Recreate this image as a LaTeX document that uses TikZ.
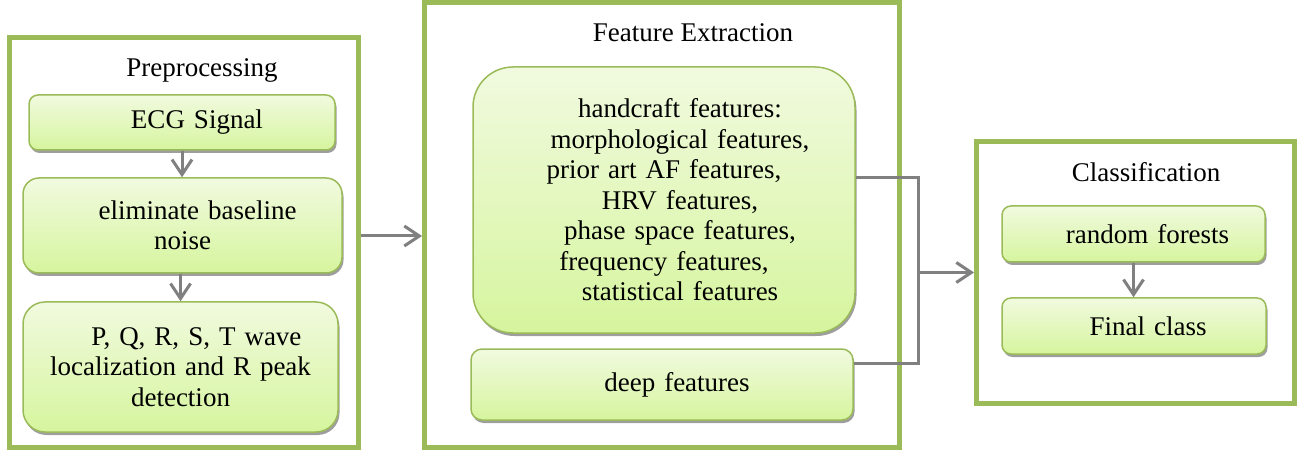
\documentclass[tikz,border=0pt]{standalone}
\usepackage{fontspec}
\setmainfont{Liberation Serif}
\usetikzlibrary{arrows.meta,shadows}
\definecolor{olivegreen}{HTML}{9BBB59}
\definecolor{boxtop}{HTML}{F1FADF}
\definecolor{boxbot}{HTML}{D6F59E}
\definecolor{conngray}{HTML}{808080}
\begin{document}
\begin{tikzpicture}[x=1pt,y=-1pt,
  every node/.style={font=\fontsize{27}{30.5}\selectfont},
  outerbox/.style={draw=olivegreen, line width=5pt, inner sep=0pt},
  innerbox/.style={draw=olivegreen, line width=1.5pt, top color=boxtop, bottom color=boxbot,
     drop shadow={shadow xshift=1.5pt, shadow yshift=-3pt, fill=black!38, opacity=1},
     align=center, inner sep=0pt},
  titletext/.style={anchor=base, inner sep=0pt},
  connline/.style={draw=conngray, line width=3pt},
  conn/.style={connline, -{Straight Barb[length=15pt,width=20pt]}}
]
\useasboundingbox (0,0) rectangle (1301,454);

% outer group boxes
\node[outerbox, minimum width=348.5pt, minimum height=409.5pt] (pre) at (183.75,242.25) {};
\node[outerbox, minimum width=474.5pt, minimum height=445pt] (fe) at (661.75,225) {};
\node[outerbox, minimum width=317.5pt, minimum height=262pt] (cls) at (1135.25,272.5) {};

% titles
\node[titletext] (pretitle) at (202,77) {Preprocessing};
\node[titletext] (fetitle) at (693,42) {Feature Extraction};
\node[titletext] (clstitle) at (1146,182) {Classification};

% preprocessing boxes
\node[innerbox, rounded corners=9pt, minimum width=306pt, minimum height=55pt, text width=296pt] (ecg) at (182,122.5)
  {\hspace*{30pt}\raisebox{-3pt}{ECG Signal}};
\node[innerbox, rounded corners=16pt, minimum width=319pt, minimum height=95pt, text width=309pt] (elim) at (182.5,225.5)
  {\hspace*{30pt}eliminate baseline\\noise};
\node[innerbox, rounded corners=22pt, minimum width=315pt, minimum height=130pt, text width=305pt] (pq) at (180.5,367)
  {\hspace*{32pt}P, Q, R, S, T wave\\localization and R peak\\detection};

% feature extraction boxes
\node[innerbox, rounded corners=40pt, minimum width=382pt, minimum height=266pt, text width=372pt] (hand) at (664,200)
  {\hspace*{32pt}handcraft features:\\
   \hspace*{32pt}morphological features,\\
   prior art AF features,\\
   \hspace*{32pt}HRV features,\\
   \hspace*{32pt}phase space features,\\
   frequency features,\\
   \hspace*{32pt}statistical features};
\node[innerbox, rounded corners=11pt, minimum width=382pt, minimum height=71pt, text width=372pt] (deep) at (662,384.5)
  {\hspace*{30pt}deep features};

% classification boxes
\node[innerbox, rounded corners=9pt, minimum width=263pt, minimum height=56pt, text width=253pt] (rf) at (1133.5,234)
  {\hspace*{28pt}random forests};
\node[innerbox, rounded corners=9pt, minimum width=264pt, minimum height=56pt, text width=254pt] (fc) at (1134,326)
  {\hspace*{28pt}Final class};

% connectors
\draw[conn] (ecg.south) -- (ecg.south |- elim.north);
\draw[conn] (pq.north |- elim.south) -- (pq.north);
\draw[conn] (rf.south) -- (rf.south |- fc.north);

\coordinate (pa) at (358,236);
\draw[conn] (pre.east |- pa) -- (fe.west |- pa);

\coordinate (j1) at (918,178);
\coordinate (j2) at (918,363);
\draw[connline] (hand.east |- j1) -- (j1) -- (j2) -- (deep.east |- j2);
\draw[conn] (j1 |- cls.west) -- (cls.west);
\end{tikzpicture}
\end{document}
